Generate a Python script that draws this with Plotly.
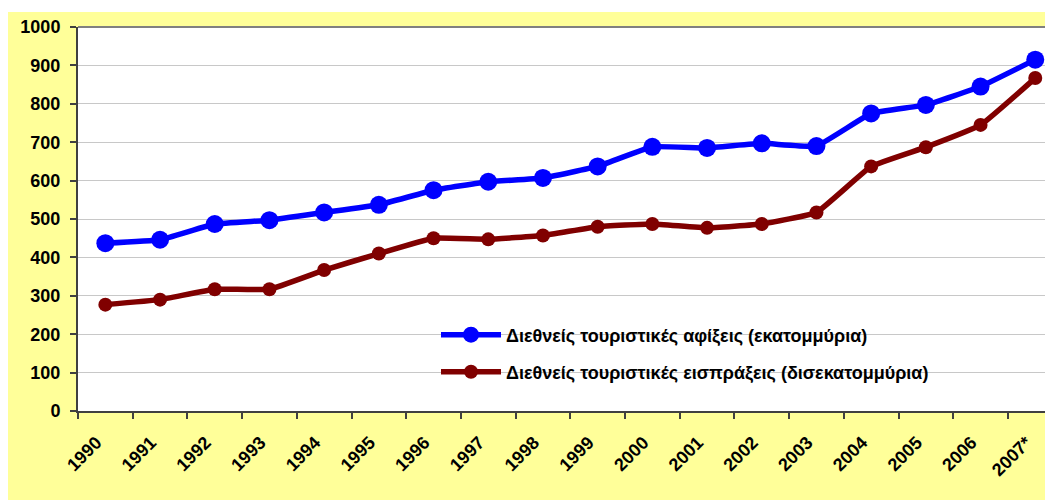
import plotly.graph_objects as go

years = ["1990", "1991", "1992", "1993", "1994", "1995", "1996", "1997", "1998",
         "1999", "2000", "2001", "2002", "2003", "2004", "2005", "2006", "2007*"]
arrivals = [437, 446, 487, 497, 517, 537, 575, 597, 607, 637, 688, 685, 697, 690, 775, 797, 845, 915]
receipts = [277, 290, 317, 317, 367, 410, 450, 447, 457, 480, 487, 477, 487, 517, 637, 687, 745, 867]

name_arr = "Διεθνείς τουριστικές αφίξεις (εκατομμύρια)"
name_rec = "Διεθνείς τουριστικές εισπράξεις (δισεκατομμύρια)"

FONT = "Liberation Sans, Arial, sans-serif"
YELLOW = "#FFFF99"

fig = go.Figure()
fig.add_trace(go.Scatter(
    x=years, y=arrivals, name=name_arr, mode="lines+markers",
    line=dict(color="#0000FF", width=5.5, shape="spline", smoothing=0.3),
    marker=dict(color="#0000FF", size=18), legend="legend", showlegend=True))
fig.add_trace(go.Scatter(
    x=years, y=receipts, name=name_rec, mode="lines+markers",
    line=dict(color="#800000", width=5.5, shape="spline", smoothing=0.3),
    marker=dict(color="#800000", size=14), legend="legend2", showlegend=True))

# page body adds an 8px offset; coordinates below are figure pixels
OFF = 8
L, T, B = 78 - OFF, 27 - OFF, 500 - (411 - OFF)
W, H = 1053, 500
pw = W - L
ph = H - T - B

def px_x(x):  # window px -> paper
    return (x - OFF - L) / pw

def px_y(y):  # window px -> paper
    return (H - B - (y - OFF)) / ph

shapes = [
    dict(type="rect", xref="paper", yref="paper", x0=-0.2, x1=1.2,
         y0=px_y(12), y1=px_y(-20), fillcolor="white", line=dict(width=0), layer="below"),
    dict(type="rect", xref="paper", yref="paper", x0=px_x(410), x1=1.01,
         y0=px_y(396), y1=px_y(314), fillcolor="white", line=dict(width=0), layer="between"),
    dict(type="line", xref="paper", yref="paper", x0=0, x1=1, y0=1, y1=1,
         line=dict(color="#808080", width=2)),
]

legend_font = dict(size=18, weight="bold", family=FONT, color="black")

fig.update_layout(
    width=W, height=H,
    margin=dict(l=L, r=0, t=T, b=B, pad=0, autoexpand=False),
    paper_bgcolor=YELLOW,
    plot_bgcolor="white",
    showlegend=True,
    font=dict(family=FONT, color="black"),
    shapes=shapes,
    legend=dict(x=px_x(436), y=px_y(335), xanchor="left", yanchor="middle",
                itemwidth=60, bgcolor="rgba(0,0,0,0)", font=legend_font),
    legend2=dict(x=px_x(436), y=px_y(372), xanchor="left", yanchor="middle",
                 itemwidth=60, bgcolor="rgba(0,0,0,0)", font=legend_font),
    xaxis=dict(
        type="category", categoryorder="array", categoryarray=years,
        range=[-0.5, -0.5 + pw / 54.7], automargin=False,
        showgrid=False, showline=True, linecolor="#404040", linewidth=2,
        ticks="outside", ticklen=6, tickcolor="#404040", tickwidth=1.5,
        tickson="boundaries", tickangle=-45,
        ticklabelstandoff=12, ticklabelshift=-9,
        tickfont=dict(size=18, weight="bold", family=FONT),
        zeroline=False,
    ),
    yaxis=dict(
        range=[0, 1000], dtick=100, tick0=0, automargin=False,
        showgrid=True, gridcolor="#C8C8C8", gridwidth=1,
        showline=True, linecolor="#404040", linewidth=2,
        ticks="outside", ticklen=6, tickcolor="#404040", tickwidth=1.5,
        ticklabelstandoff=6,
        tickfont=dict(size=18, weight="bold", family=FONT),
        zeroline=False,
    ),
)

fig.write_html("out.html")
